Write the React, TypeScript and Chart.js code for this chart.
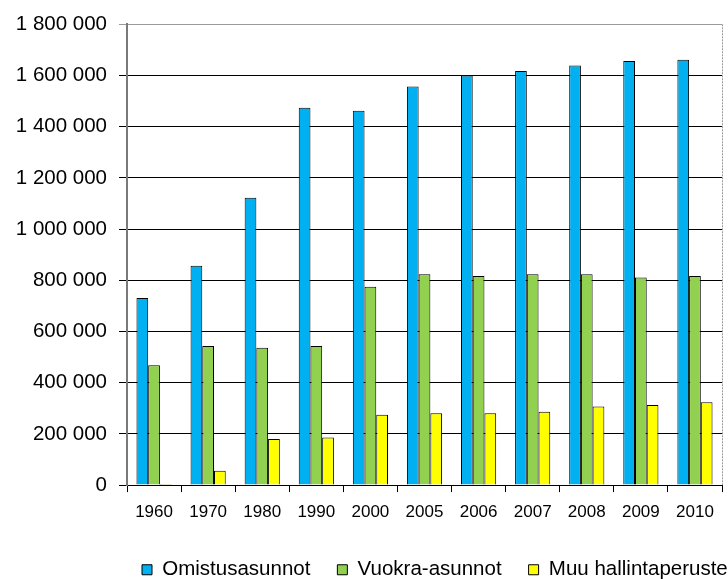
import { useEffect, useRef } from 'react';
import { Chart, registerables } from 'chart.js';

Chart.register(...registerables);

const years = ['1960', '1970', '1980', '1990', '2000', '2005', '2006', '2007', '2008', '2009', '2010'];
const omistusasunnot = [731000, 857000, 1122000, 1474000, 1462000, 1557000, 1600000, 1618000, 1639000, 1657000, 1662000];
const vuokraAsunnot = [468000, 543000, 537000, 543000, 775000, 824000, 817000, 824000, 824000, 811000, 817000];
const muuHallintaperuste = [4000, 56000, 180000, 186000, 275000, 281000, 281000, 287000, 307000, 313000, 324000];
const seriesNames = ['Omistusasunnot', 'Vuokra-asunnot', 'Muu hallintaperuste'];
const yMax = 1800000;
const yStep = 200000;

const FONT = "'Liberation Sans', Arial, sans-serif";
const LEGEND_PAD = 27;

const fmt = (v: number) => String(v).replace(/\B(?=(\d{3})+(?!\d))/g, ' ');

const framePlugin = {
  id: 'frame',
  afterLayout(chart: any) {
    const lg = chart.legend;
    if (lg && lg.lineWidths) {
      lg.right = 3000;
      lg.left = 2 * 142 - LEGEND_PAD - lg.right + lg.lineWidths[0];
    }
  },
  afterDatasetsDraw(chart: any) {
    const { ctx, chartArea } = chart;
    ctx.save();
    ctx.strokeStyle = '#9a9a9a';
    ctx.lineWidth = 1;
    ctx.setLineDash([2, 1]);
    ctx.beginPath();
    ctx.moveTo(Math.round(chartArea.right) + 0.5, chartArea.top);
    ctx.lineTo(Math.round(chartArea.right) + 0.5, chartArea.bottom);
    ctx.stroke();
    ctx.restore();
  },
};

export default function App() {
  const ref = useRef<HTMLCanvasElement | null>(null);

  useEffect(() => {
    if (!ref.current) return;
    const chart = new Chart(ref.current, {
      type: 'bar',
      data: {
        labels: years,
        datasets: [
          { label: seriesNames[0], data: omistusasunnot, backgroundColor: '#00B0F0', borderColor: '#000', borderWidth: 1 },
          { label: seriesNames[1], data: vuokraAsunnot, backgroundColor: '#92D050', borderColor: '#000', borderWidth: 1 },
          { label: seriesNames[2], data: muuHallintaperuste, backgroundColor: '#FFFF00', borderColor: '#000', borderWidth: 1 },
        ],
      },
      options: {
        responsive: false,
        animation: false,
        maintainAspectRatio: false,
        layout: { padding: { top: 24, right: 6, left: 0, bottom: 0 } },
        datasets: { bar: { categoryPercentage: 0.65, barPercentage: 1 } },
        plugins: {
          tooltip: { enabled: false },
          legend: {
            position: 'bottom',
            labels: {
              boxWidth: 10,
              boxHeight: 10,
              padding: LEGEND_PAD,
              color: '#000',
              font: { family: FONT, size: 20.5 },
            },
          },
        },
        scales: {
          x: {
            grid: { drawOnChartArea: false, offset: true, tickLength: 7, color: '#000' },
            border: { color: '#000', width: 1 },
            ticks: { color: '#000', padding: 10, font: { family: FONT, size: 17 }, maxRotation: 0 },
          },
          y: {
            min: 0,
            max: yMax,
            afterFit(scale: any) {
              scale.width = 127;
            },
            grid: {
              color: (c: any) => (c.tick && c.tick.value === yMax ? '#9a9a9a' : '#000'),
              tickLength: 8,
            },
            border: { color: '#7a7a7a', width: 2 },
            ticks: {
              stepSize: yStep,
              color: '#000',
              padding: 12,
              font: { family: FONT, size: 20.5 },
              callback: (v: any) => fmt(Number(v)),
            },
          },
        },
      },
      plugins: [framePlugin],
    });
    return () => chart.destroy();
  }, []);

  return (
    <div style={{ position: 'absolute', left: 0, top: 0, width: 728, height: 579, overflow: 'hidden', background: '#fff' }}>
      <canvas ref={ref} width={728} height={590} style={{ display: 'block' }} />
    </div>
  );
}
